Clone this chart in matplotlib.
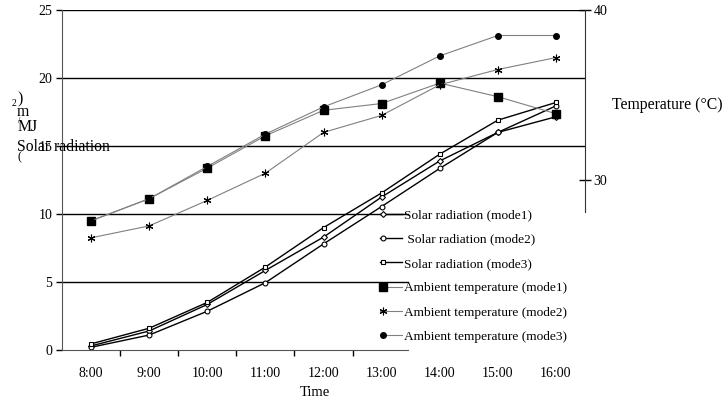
import matplotlib
matplotlib.use("Agg")
import matplotlib.pyplot as plt
from matplotlib.lines import Line2D
from matplotlib.legend_handler import HandlerLine2DCompound

plt.rcParams["font.family"] = ["Liberation Serif", "DejaVu Serif"]

hours = ["8:00", "9:00", "10:00", "11:00", "12:00", "13:00", "14:00", "15:00", "16:00"]

# solar radiation (MJ/m2), left axis
solar_m1 = [0.3, 1.4, 3.35, 5.85, 8.3, 11.25, 13.9, 16.0, 17.15]
solar_m2 = [0.2, 1.1, 2.85, 4.95, 7.8, 10.55, 13.35, 16.0, 17.95]
solar_m3 = [0.45, 1.6, 3.5, 6.1, 9.0, 11.55, 14.4, 16.9, 18.2]

# ambient temperature (°C), right axis
temp_m1 = [27.6, 28.9, 30.7, 32.6, 34.1, 34.5, 35.7, 34.9, 33.9]
temp_m2 = [26.6, 27.3, 28.8, 30.4, 32.8, 33.8, 35.6, 36.5, 37.2]
temp_m3 = [27.6, 28.9, 30.8, 32.7, 34.3, 35.6, 37.3, 38.5, 38.5]


class LeftMarker(HandlerLine2DCompound):
    """legend sample with the marker sitting at the left end of the line"""
    def get_xdata(self, legend, xdescent, ydescent, width, height, fontsize):
        xdata, _ = super().get_xdata(legend, xdescent, ydescent, width, height, fontsize)
        return xdata, [xdata[0] + 2]


W, H = 725, 412
fig = plt.figure(figsize=(W / 100, H / 100), dpi=100)
fig.patch.set_facecolor("white")

# pixel box of the plot area
L, R, T, B = 62, 585, 10, 350
ax = fig.add_axes([L / W, 1 - B / H, (R - L) / W, (B - T) / H])
ax2 = ax.twinx()

x = list(range(len(hours)))
ax.set_xlim(-0.5, len(hours) - 0.5)
ax.set_ylim(0, 25)
ax2.set_ylim(20, 40)

# grid: lower two lines are hidden behind the legend block
for v in [5, 10]:
    ax.axhline(v, xmin=0, xmax=(408 - L) / (R - L), color="black", lw=1.0, zorder=0)
for v in [15, 20, 25]:
    ax.axhline(v, color="black", lw=1.0, zorder=0)

sk = dict(color="black", lw=1.0, mfc="white", mec="black", mew=0.8)
h1, = ax.plot(x, solar_m1, marker="D", ms=3, label="Solar radiation (mode1)", **sk)
h2, = ax.plot(x, solar_m2, marker="o", ms=3.5, label=" Solar radiation (mode2)", **sk)
h3, = ax.plot(x, solar_m3, marker="s", ms=3.5, label="Solar radiation (mode3)", **sk)

tk = dict(color="#808080", lw=0.8, mec="black", mfc="black")
h4, = ax2.plot(x, temp_m1, marker="s", ms=6, label="Ambient temperature (mode1)", **tk)
h5, = ax2.plot(x, temp_m2, marker=(6, 2, 0), ms=5.5, mew=0.8,
               label="Ambient temperature (mode2)", **tk)
h6, = ax2.plot(x, temp_m3, marker="o", ms=4, label="Ambient temperature (mode3)", **tk)

# left axis
ax.set_yticks([0, 5, 10, 15, 20, 25])
ax.tick_params(axis="y", direction="out", length=4, width=1, labelsize=10, pad=3)
ax.set_xticks(x)
ax.set_xticklabels(hours, fontsize=10)
ax.set_xticks([i + 0.5 for i in range(5)], minor=True)
ax.tick_params(axis="x", which="major", length=0, pad=12)
ax.tick_params(axis="x", which="minor", direction="out", length=4, width=1)
ax.spines["top"].set_visible(False)
ax.spines["right"].set_visible(False)
ax.spines["left"].set_color("#555555")
ax.spines["bottom"].set_color("#555555")
ax.spines["bottom"].set_bounds(-0.5, 5.45)

# right axis
ax2.set_yticks([30, 40])
ax2.tick_params(axis="y", direction="inout", length=8, width=1, labelsize=10, pad=2)
for s in ["top", "left", "bottom"]:
    ax2.spines[s].set_visible(False)
ax2.spines["right"].set_color("#333333")
ax2.spines["right"].set_bounds(28.1, 40)

fig.legend(handles=[h1, h2, h3, h4, h5, h6], loc="upper left",
           bbox_to_anchor=(380 / W, 1 - 209 / H), frameon=False, fontsize=9.6,
           handlelength=1.65, handletextpad=0.15, labelspacing=0.9,
           borderpad=0, borderaxespad=0,
           handler_map={Line2D: LeftMarker(numpoints=2, marker_pad=0)})

# broken, stacked y label as in the original
def px(xp, yp, s, size=11.3):
    fig.text(xp / W, 1 - yp / H, s, fontsize=size, va="center")

px(17, 147, "Solar radiation")
px(17, 157, "(", 9)
px(18, 127, "MJ")
px(18, 121, "/", 6)
px(17, 112, "m")
px(12, 104, "2", 7)
px(17, 99, ")")

px(612, 105, "Temperature (°C)")
px(300, 392, "Time", 10.5)

fig.savefig("out.png", dpi=100)
plt.close()
